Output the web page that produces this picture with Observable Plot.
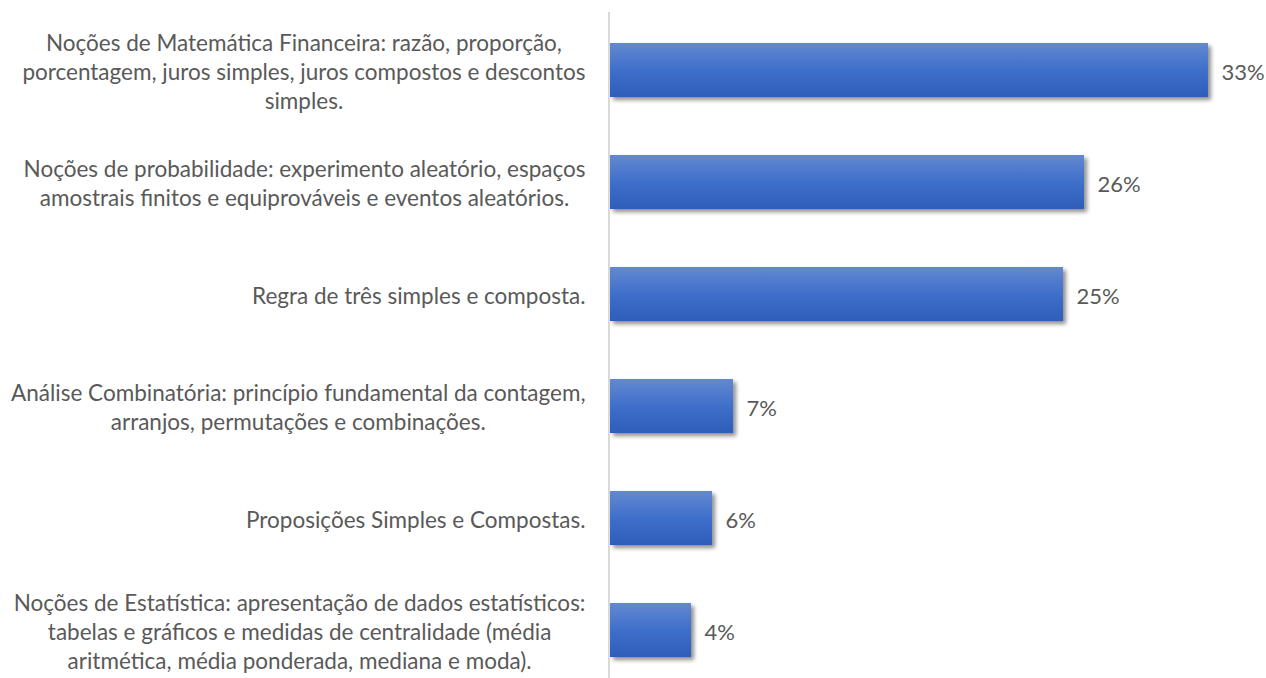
<!DOCTYPE html>
<html>
<head>
<meta charset="utf-8">
<script src="https://cdn.jsdelivr.net/npm/d3@7"></script>
<script src="https://cdn.jsdelivr.net/npm/@observablehq/plot@0.6"></script>
<style>
  html, body { margin: 0; padding: 0; background: #fff; }
  #chart { width: 1266px; height: 678px; overflow: hidden; }
</style>
</head>
<body>
<div id="chart"></div>
<script>
// Data
const categories = [
  "Noções de Matemática Financeira: razão, proporção,\nporcentagem, juros simples, juros compostos e descontos\nsimples.",
  "Noções de probabilidade: experimento aleatório, espaços\namostrais finitos e equiprováveis e eventos aleatórios.",
  "Regra de três simples e composta.",
  "Análise Combinatória: princípio fundamental da contagem,\narranjos, permutações e combinações.",
  "Proposições Simples e Compostas.",
  "Noções de Estatística: apresentação de dados estatísticos:\ntabelas e gráficos e medidas de centralidade (média\naritmética, média ponderada, mediana e moda)."
];
const values = [0.330, 0.2616, 0.250, 0.0679, 0.0563, 0.0447];

const data = categories.map((c, i) => ({category: c, value: values[i]}));

const FONT = "Lato, 'Open Sans', sans-serif";
const FS = 22.5;
const VFS = 22;
const TEXT = "#595959";

// measure widest line of each category label
const ctx = document.createElement("canvas").getContext("2d");
ctx.font = `${FS}px Lato`;
function blockWidth(s) {
  return d3.max(s.split("\n"), l => ctx.measureText(l).width);
}

const labelMarks = data.map(d =>
  Plot.text([d], {
    x: () => 0,
    y: "category",
    text: "category",
    textAnchor: "middle",
    lineHeight: 1.29,
    dx: -25 - blockWidth(d.category) / 2,
    fill: TEXT,
    fontSize: FS,
    fontFamily: FONT
  })
);

const plot = Plot.plot({
  width: 1266,
  height: 678,
  marginTop: 12,
  marginBottom: 0,
  marginLeft: 610,
  marginRight: 0,
  style: {fontFamily: FONT, background: "#fff"},
  x: {domain: [0, 0.36], range: [610, 610 + 0.36 * 1812], axis: null},
  y: {domain: categories, range: [12.75, 687.75], paddingInner: 0.52, paddingOuter: 0.26, axis: null},
  marks: [
    Plot.barX(data, {x: "value", y: "category", fill: "url(#barGrad)"}),
    Plot.ruleX([0], {stroke: "#d9d9d9", strokeWidth: 2, dx: -1.5}),
    Plot.text(data, {
      x: "value",
      y: "category",
      text: d => d3.format(".0%")(d.value),
      textAnchor: "start",
      dx: 13,
      dy: 2,
      fill: TEXT,
      fontSize: VFS,
      fontFamily: FONT
    }),
    ...labelMarks
  ]
});

// gradient + shadow defs
const ns = "http://www.w3.org/2000/svg";
const defs = document.createElementNS(ns, "defs");
defs.innerHTML = `
  <linearGradient id="barGrad" x1="0" y1="0" x2="0" y2="1">
    <stop offset="0" stop-color="#6388cf"/>
    <stop offset="0.5" stop-color="#3f6fca"/>
    <stop offset="1" stop-color="#2d5db8"/>
  </linearGradient>
  <filter id="barShadow" x="-10%" y="-20%" width="130%" height="160%">
    <feGaussianBlur in="SourceAlpha" stdDeviation="2.2"/>
    <feOffset dx="2.5" dy="3" result="ob"/>
    <feComponentTransfer><feFuncA type="linear" slope="0.45"/></feComponentTransfer>
    <feMerge><feMergeNode/><feMergeNode in="SourceGraphic"/></feMerge>
  </filter>`;
plot.insertBefore(defs, plot.firstChild);
const barG = plot.querySelector("g[aria-label='bar']");
if (barG) barG.setAttribute("filter", "url(#barShadow)");

document.getElementById("chart").appendChild(plot);
</script>
</body>
</html>
